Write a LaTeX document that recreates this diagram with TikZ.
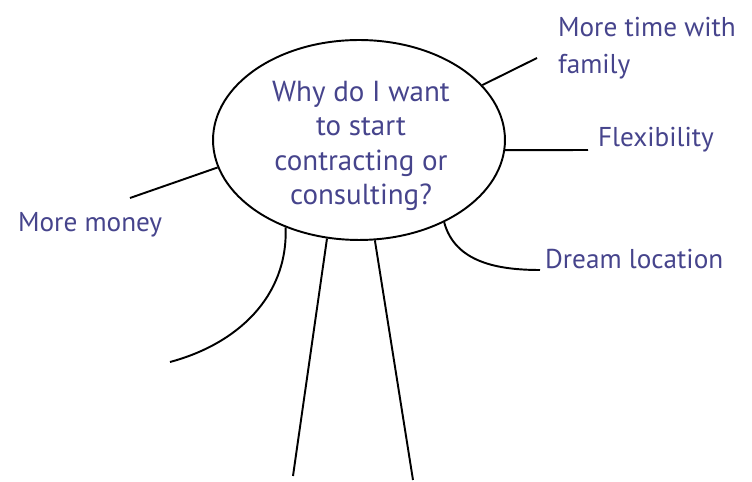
\documentclass[tikz,border=0pt]{standalone}
\usepackage{fontspec}
\newfontfamily\handfont{PT Sans}
\usetikzlibrary{shapes.geometric}
\usetikzlibrary{positioning}
\definecolor{inkblue}{RGB}{70,68,140}

\begin{document}
\begin{tikzpicture}[x=0.02cm,y=-0.02cm,
    spoke/.style={draw=black, line width=1.1pt},
    reason/.style={text=inkblue, font=\handfont\fontsize{15.5}{21}\selectfont, inner sep=1pt}]
    \useasboundingbox (0,0) rectangle (752,482);
    \node[ellipse, draw, line width=1.1pt, minimum width=5.84cm, minimum height=4cm,
        inner sep=0pt] (why) at (359,140) {};
    \node[align=center, text=inkblue, font=\handfont\fontsize{16.5}{19.5}\selectfont]
        (question) at (361,146) {Why do I want\\to start\\contracting or\\consulting?};
    \node[reason, anchor=west, align=left] (family) at (556,48) {More time with\\family};
    \node[reason, anchor=west] (flex) at (596,140) {Flexibility};
    \node[reason, anchor=west] (dream) at (543,259) {Dream location};
    \node[reason, anchor=west] (money) at (16,225) {More money};
    \coordinate (famend) at (537,58);
    \coordinate (flexend) at (588,150);
    \coordinate (dreamend) at (540,270);
    \coordinate (moneyend) at (130,198);
    \coordinate (blankA) at (170,362);
    \coordinate (blankB) at (293,476);
    \coordinate (blankC) at (413,480);
    \draw[spoke] (why.24) -- (famend);
    \draw[spoke] (why.-4) -- (flexend);
    \draw[spoke] (why.-44) to[out=-75, in=180] (dreamend);
    \draw[spoke] (why.191) -- (moneyend);
    \draw[spoke] (why.230) to[out=-88, in=15] (blankA);
    \draw[spoke] (why.252) -- (blankB);
    \draw[spoke] (why.279) -- (blankC);
\end{tikzpicture}
\end{document}
